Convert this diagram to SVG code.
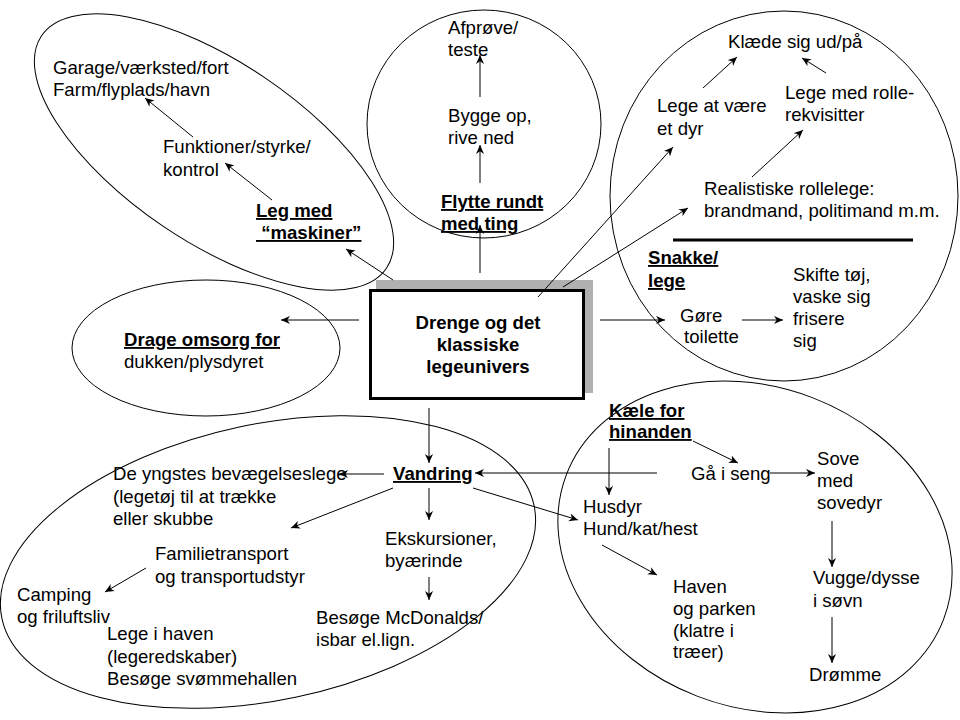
<svg xmlns="http://www.w3.org/2000/svg" width="960" height="720" viewBox="0 0 960 720">
<defs>
<marker id="ah" viewBox="0 0 10 10" refX="10" refY="5" markerWidth="9" markerHeight="9" markerUnits="userSpaceOnUse" orient="auto">
<path d="M0,0.5 L10,5 L0,9.5 L3,5 z" fill="#000"/>
</marker>
<style>
.t{font-family:"Liberation Sans",Arial,sans-serif;font-size:18.6px;fill:#000}
.b{font-weight:bold;text-decoration:underline}
.c{font-family:"Liberation Sans",Arial,sans-serif;font-size:18.6px;font-weight:bold;fill:#000;text-anchor:middle}
.e{fill:none;stroke:#000;stroke-width:1}
.a{stroke:#000;stroke-width:1;fill:none;marker-end:url(#ah)}
</style>
</defs>
<rect width="960" height="720" fill="#fff"/>

<g id="maskiner-group">
<ellipse class="e" cx="214" cy="152" rx="208" ry="90" transform="rotate(34 214 152)"/>
<text class="t" x="53" y="74">Garage/værksted/fort</text>
<text class="t" x="53" y="96">Farm/flyplads/havn</text>
<text class="t" x="163" y="153">Funktioner/styrke/</text>
<text class="t" x="163" y="176">kontrol</text>
<text class="t b" x="256" y="217">Leg med</text>
<text class="t b" x="256" y="239" xml:space="preserve"> “maskiner”</text>
</g>

<g id="flytte-group">
<ellipse class="e" cx="484" cy="124" rx="117" ry="114"/>
<text class="t" x="448" y="34">Afprøve/</text>
<text class="t" x="448" y="56">teste</text>
<text class="t" x="448" y="122">Bygge op,</text>
<text class="t" x="448" y="144">rive ned</text>
<text class="t b" x="441" y="208">Flytte rundt</text>
<text class="t b" x="441" y="230">med ting</text>
</g>

<g id="rolle-group">
<ellipse class="e" cx="784" cy="196" rx="174" ry="185"/>
<text class="t" x="728" y="48">Klæde sig ud/på</text>
<text class="t" x="657" y="112">Lege at være</text>
<text class="t" x="657" y="135">et dyr</text>
<text class="t" x="785" y="99">Lege med rolle-</text>
<text class="t" x="785" y="121">rekvisitter</text>
<text class="t" x="704" y="195">Realistiske rollelege:</text>
<text class="t" x="704" y="217">brandmand, politimand m.m.</text>
<line x1="673" y1="240" x2="913" y2="240" stroke="#000" stroke-width="3"/>
<text class="t b" x="648" y="264">Snakke/</text>
<text class="t b" x="648" y="287">lege</text>
<text class="t" x="680" y="322">Gøre</text>
<text class="t" x="684" y="343">toilette</text>
<text class="t" x="793" y="281">Skifte tøj,</text>
<text class="t" x="793" y="303">vaske sig</text>
<text class="t" x="793" y="325">frisere</text>
<text class="t" x="793" y="347">sig</text>
</g>

<g id="omsorg-group">
<ellipse class="e" cx="206" cy="348" rx="134" ry="68"/>
<text class="t b" x="124" y="346">Drage omsorg for</text>
<text class="t" x="124" y="368">dukken/plysdyret</text>
</g>

<g id="center">
<rect x="376" y="280" width="217" height="113" fill="#b0b0b0"/>
<rect x="370.5" y="290.5" width="213" height="108" fill="#fff" stroke="#000" stroke-width="3"/>
<text class="c" x="478" y="329">Drenge og det</text>
<text class="c" x="478" y="351">klassiske</text>
<text class="c" x="478" y="373">legeunivers</text>
</g>

<g id="vandring-group">
<ellipse class="e" cx="268" cy="562" rx="272" ry="138" transform="rotate(-12 268 562)"/>
<text class="t b" x="393" y="480">Vandring</text>
<text class="t" x="113" y="480">De yngstes bevægelseslege</text>
<text class="t" x="113" y="503">(legetøj til at trække</text>
<text class="t" x="113" y="525">eller skubbe</text>
<text class="t" x="155" y="560">Familietransport</text>
<text class="t" x="155" y="583">og transportudstyr</text>
<text class="t" x="385" y="545">Ekskursioner,</text>
<text class="t" x="385" y="567">byærinde</text>
<text class="t" x="17" y="601">Camping</text>
<text class="t" x="17" y="623">og friluftsliv</text>
<text class="t" x="316" y="624">Besøge McDonalds/</text>
<text class="t" x="316" y="646">isbar el.lign.</text>
<text class="t" x="107" y="640">Lege i haven</text>
<text class="t" x="107" y="663">(legeredskaber)</text>
<text class="t" x="107" y="685">Besøge svømmehallen</text>
</g>

<g id="kaele-group">
<ellipse class="e" cx="755" cy="547" rx="202" ry="160" transform="rotate(21 755 547)"/>
<text class="t b" x="609" y="417">Kæle for</text>
<text class="t b" x="609" y="438">hinanden</text>
<text class="t" x="691" y="480">Gå i seng</text>
<text class="t" x="817" y="465">Sove</text>
<text class="t" x="817" y="487">med</text>
<text class="t" x="817" y="509">sovedyr</text>
<text class="t" x="583" y="513">Husdyr</text>
<text class="t" x="583" y="535">Hund/kat/hest</text>
<text class="t" x="813" y="584">Vugge/dysse</text>
<text class="t" x="813" y="607">i søvn</text>
<text class="t" x="809" y="681">Drømme</text>
<text class="t" x="673" y="593">Haven</text>
<text class="t" x="673" y="615">og parken</text>
<text class="t" x="673" y="637">(klatre i</text>
<text class="t" x="673" y="658">træer)</text>
</g>

<g id="connectors">
<line class="a" x1="393" y1="280" x2="346" y2="249"/>
<line class="a" x1="272" y1="200" x2="225" y2="163"/>
<line class="a" x1="193" y1="137" x2="145" y2="98"/>
<line class="a" x1="480" y1="273" x2="480" y2="225"/>
<line class="a" x1="480" y1="183" x2="480" y2="145"/>
<line class="a" x1="480" y1="97" x2="480" y2="55"/>
<line class="a" x1="538" y1="297" x2="673" y2="147"/>
<line class="a" x1="563" y1="287" x2="688" y2="208"/>
<line class="a" x1="752" y1="177" x2="803" y2="130"/>
<line class="a" x1="703" y1="88" x2="737" y2="57"/>
<line class="a" x1="826" y1="73" x2="802" y2="58"/>
<line class="a" x1="600" y1="320" x2="665" y2="320"/>
<line class="a" x1="742" y1="320" x2="783" y2="320"/>
<line class="a" x1="359" y1="320" x2="281" y2="320"/>
<line class="a" x1="429" y1="408" x2="429" y2="463"/>
<line class="a" x1="384" y1="474" x2="339" y2="474"/>
<line class="a" x1="393" y1="488" x2="291" y2="528"/>
<line class="a" x1="429" y1="488" x2="429" y2="520"/>
<line class="a" x1="429" y1="577" x2="429" y2="600"/>
<line class="a" x1="146" y1="568" x2="105" y2="592"/>
<line class="a" x1="473" y1="488" x2="578" y2="520"/>
<line class="a" x1="657" y1="473" x2="475" y2="473"/>
<line class="a" x1="609" y1="448" x2="609" y2="495"/>
<line class="a" x1="693" y1="441" x2="738" y2="463"/>
<line class="a" x1="770" y1="473" x2="815" y2="473"/>
<line class="a" x1="832" y1="521" x2="832" y2="567"/>
<line class="a" x1="832" y1="617" x2="832" y2="663"/>
<line class="a" x1="602" y1="545" x2="657" y2="575"/>
</g>
</svg>
